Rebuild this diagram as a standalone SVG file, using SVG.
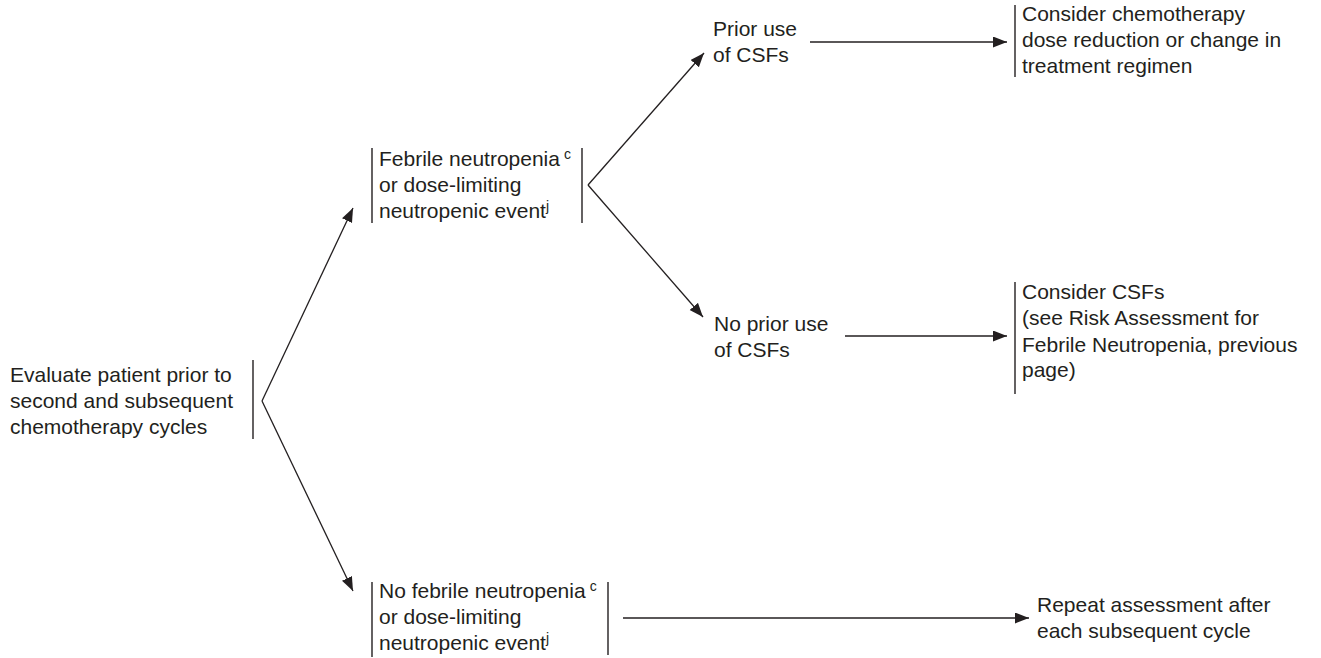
<svg xmlns="http://www.w3.org/2000/svg" width="1321" height="658" viewBox="0 0 1321 658">
<defs>
<marker id="ah" markerUnits="userSpaceOnUse" markerWidth="16" markerHeight="12" refX="14" refY="5.5" orient="auto">
<path d="M0,0 L14,5.5 L0,11 z" fill="#231f20"/>
</marker>
<style>
text{font-family:"Liberation Sans",Arial,sans-serif;font-size:21px;fill:#231f20}
.sup{font-size:14px}
.bar{stroke:#231f20;stroke-width:1.4;fill:none}
.arr{stroke:#231f20;stroke-width:1.3;fill:none;marker-end:url(#ah)}
</style>
</defs>
<rect width="1321" height="658" fill="#fff"/>
<g id="connectors">
<path class="arr" d="M262,401 L353,208"/>
<path class="arr" d="M262,401 L353,591"/>
<path class="arr" d="M588,185 L704,53"/>
<path class="arr" d="M588,185 L703,317"/>
<path class="arr" d="M810,42 L1007,42"/>
<path class="arr" d="M845,336 L1007,336"/>
<path class="arr" d="M623,618 L1029,618"/>
</g>
<g id="evaluate">
<text x="10" y="382">Evaluate patient prior to</text>
<text x="10" y="408">second and subsequent</text>
<text x="10" y="434">chemotherapy cycles</text>
<line class="bar" x1="253" y1="360" x2="253" y2="439"/>
</g>
<g id="febrile">
<line class="bar" x1="372" y1="148" x2="372" y2="223"/>
<line class="bar" x1="582" y1="148" x2="582" y2="223"/>
<text x="379" y="166">Febrile neutropenia<tspan class="sup" dx="4" dy="-7">c</tspan></text>
<text x="379" y="192">or dose-limiting</text>
<text x="379" y="218">neutropenic event<tspan class="sup" dy="-7">j</tspan></text>
</g>
<g id="prior">
<text x="713" y="36">Prior use</text>
<text x="713" y="62">of CSFs</text>
</g>
<g id="noprior">
<text x="714" y="331">No prior use</text>
<text x="714" y="357">of CSFs</text>
</g>
<g id="reduce">
<line class="bar" x1="1015" y1="5" x2="1015" y2="77"/>
<text x="1022" y="21">Consider chemotherapy</text>
<text x="1022" y="47">dose reduction or change in</text>
<text x="1022" y="73">treatment regimen</text>
</g>
<g id="considercsf">
<line class="bar" x1="1015" y1="282" x2="1015" y2="394"/>
<text x="1022" y="299">Consider CSFs</text>
<text x="1022" y="325">(see Risk Assessment for</text>
<text x="1022" y="352">Febrile Neutropenia, previous</text>
<text x="1022" y="377">page)</text>
</g>
<g id="nofebrile">
<line class="bar" x1="372" y1="582" x2="372" y2="657"/>
<line class="bar" x1="608" y1="582" x2="608" y2="655"/>
<text x="379" y="598">No febrile neutropenia<tspan class="sup" dx="4" dy="-7">c</tspan></text>
<text x="379" y="624">or dose-limiting</text>
<text x="379" y="650">neutropenic event<tspan class="sup" dy="-7">j</tspan></text>
</g>
<g id="repeat">
<text x="1037" y="612">Repeat assessment after</text>
<text x="1037" y="638">each subsequent cycle</text>
</g>
</svg>
